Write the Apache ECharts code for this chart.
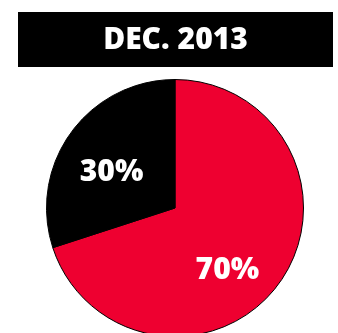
<!DOCTYPE html>
<html>
<head>
<meta charset="utf-8">
<script src="https://cdn.jsdelivr.net/npm/echarts@6/dist/echarts.min.js"></script>
<style>
html,body{margin:0;padding:0;background:#fff;}
#main{width:338px;height:333px;}
</style>
</head>
<body>
<div id="main"></div>
<script>
var titleText = 'DEC. 2013';
var categories = ['Red', 'Black'];
var values = [70, 30];
var colors = ['#EE0030', '#000000'];
var labelOffsets = [[-2, 23], [-9, 4]];

var chart = echarts.init(document.getElementById('main'), null, {renderer: 'canvas'});
chart.setOption({
  animation: false,
  graphic: [
    {type: 'rect', shape: {x: 18, y: 12, width: 315, height: 55}, style: {fill: '#000'}, z: 10},
    {type: 'text', x: 175.5, y: 40, z: 11,
     style: {text: titleText, fill: '#fff', font: '800 30px "Open Sans"', textAlign: 'center', textVerticalAlign: 'middle'}}
  ],
  series: [{
    type: 'pie',
    center: [175, 208],
    radius: 128.5,
    startAngle: 90,
    clockwise: true,
    silent: true,
    data: categories.map(function (c, i) {
      return {
        name: c, value: values[i],
        itemStyle: {color: colors[i]},
        label: {offset: labelOffsets[i]}
      };
    }),
    itemStyle: {borderColor: '#000', borderWidth: 1},
    label: {
      show: true,
      position: 'inside',
      formatter: '{c}%',
      color: '#fff',
      fontFamily: 'Open Sans',
      fontWeight: 800,
      fontSize: 30
    },
    labelLine: {show: false}
  }]
});
</script>
</body>
</html>
